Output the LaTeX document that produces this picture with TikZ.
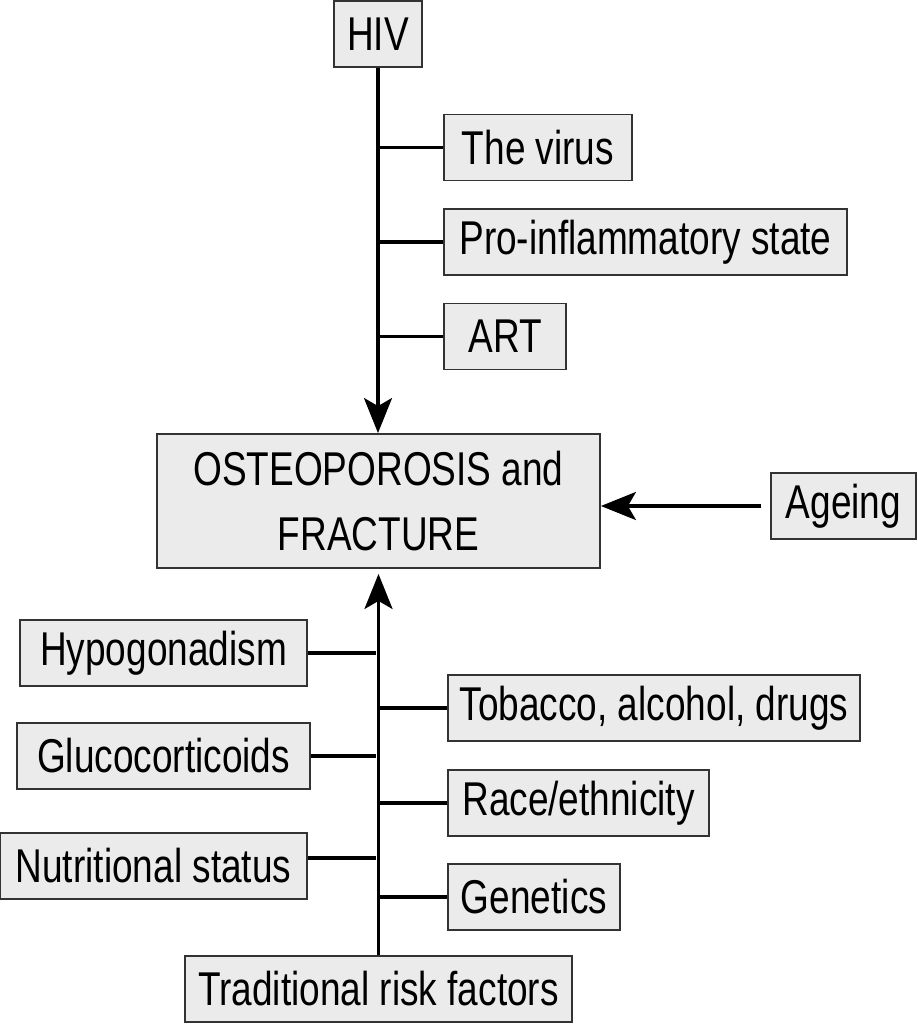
\documentclass[tikz,border=0pt]{standalone}
\usepackage{fontspec}
\setmainfont[FakeStretch=0.78]{Liberation Sans}
\usetikzlibrary{arrows.meta,calc}

\tikzset{
  factor/.style={draw=black!80, line width=1.1pt, fill=black!8, inner xsep=2pt, inner ysep=0pt,
    minimum height=1.32cm, font=\fontsize{27}{37}\selectfont, align=center},
  spine/.style={line width=1.8pt},
  pointer/.style={spine, -{Stealth[length=0.7cm, width=0.56cm, inset=0.16cm]}}
}

\begin{document}
\begin{tikzpicture}[x=0.02cm, y=-0.02cm]
		%%%%% START %%%%%
		\useasboundingbox (0, 0) rectangle (917, 1024);
		
		\node[factor, minimum width=1.76cm] (hiv) at (378, 34) {HIV};
		\node[factor, minimum width=3.76cm] (virus) at (538, 147.5) {The virus};
		\node[factor, minimum width=8.06cm] (inflam) at (645.5, 242) {Pro-inflammatory state};
		\node[factor, minimum width=2.44cm] (art) at (505, 336.5) {ART};
		
		\node[factor, minimum width=8.86cm, minimum height=2.68cm] (osteo) at (378.5, 501) {OSTEOPOROSIS and\\FRACTURE};
		\node[factor, minimum width=2.9cm] (ageing) at (843.5, 506) {Ageing};
		
		\node[factor, minimum width=5.74cm] (hypo) at (163.5, 653) {Hypogonadism};
		\node[factor, minimum width=5.86cm] (gluco) at (163.5, 756) {Glucocorticoids};
		\node[factor, minimum width=6.14cm] (nutri) at (153.5, 866) {Nutritional status};
		
		\node[factor, minimum width=8.24cm] (tobacco) at (654, 708) {Tobacco, alcohol, drugs};
		\node[factor, minimum width=5.22cm] (race) at (578.5, 803) {Race/ethnicity};
		\node[factor, minimum width=3.44cm] (genetics) at (534, 897) {Genetics};
		
		\node[factor, minimum width=7.74cm] (trad) at (378.5, 989) {Traditional risk factors};
		
		% HIV branch
		\draw[pointer] (hiv.south) -- (osteo.north -| hiv.south);
		\draw[spine] (virus.west) -- (virus.west -| hiv.south);
		\draw[spine] (inflam.west) -- (inflam.west -| hiv.south);
		\draw[spine] (art.west) -- (art.west -| hiv.south);
		
		% ageing
		\draw[pointer] ([xshift=-0.18cm]ageing.west) -- (ageing.west -| osteo.east);
		
		% traditional branch
		\draw[pointer] (trad.north) -- ([yshift=-0.1cm]osteo.south -| trad.north);
		\draw[spine] (tobacco.west) -- (tobacco.west -| trad.north);
		\draw[spine] (race.west) -- (race.west -| trad.north);
		\draw[spine] (genetics.west) -- (genetics.west -| trad.north);
		\draw[spine] (hypo.east) -- ($(hypo.east -| trad.north)+(-3, 0)$);
		\draw[spine] (gluco.east) -- ($(gluco.east -| trad.north)+(-3, 0)$);
		\draw[spine] ($(nutri.east)+(0, -8)$) -- ($(nutri.east -| trad.north)+(-3, -8)$);
		
		%%%%% END %%%%%
	\end{tikzpicture}
\end{document}
